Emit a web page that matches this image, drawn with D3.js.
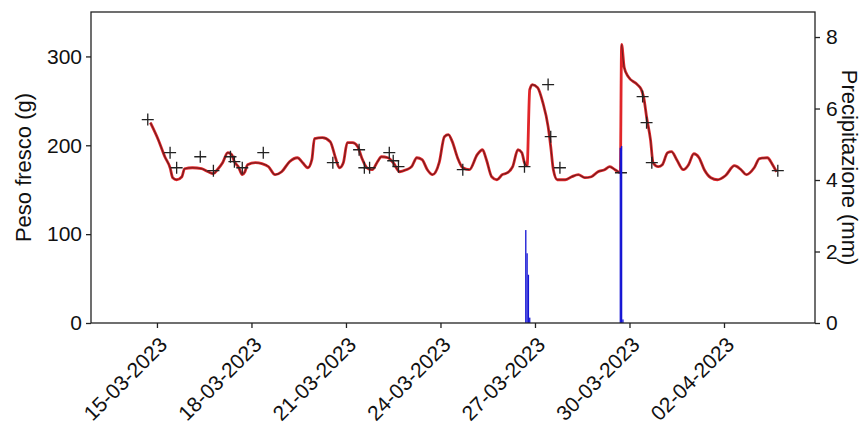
<!DOCTYPE html>
<html>
<head>
<meta charset="utf-8">
<script src="https://cdn.jsdelivr.net/npm/d3@7"></script>
<style>
  html, body { margin: 0; padding: 0; background: #fff; }
  svg { display: block; }
  text { font-family: "Liberation Sans", Arial, sans-serif; fill: #111; }
</style>
</head>
<body>
<div id="chart"></div>
<script>
// ---------------- DATA ----------------
// Modelled fresh weight (hourly-ish trace), red line
const lineTimes = [
  "2023-03-14 19:00","2023-03-15 01:00","2023-03-15 06:00","2023-03-15 10:00","2023-03-15 12:00",
  "2023-03-15 15:00","2023-03-15 19:00","2023-03-15 21:00","2023-03-16 03:00","2023-03-16 10:00",
  "2023-03-16 15:00","2023-03-16 19:00","2023-03-16 22:00","2023-03-17 02:00","2023-03-17 06:00",
  "2023-03-17 09:00","2023-03-17 11:00","2023-03-17 14:00","2023-03-17 17:00","2023-03-17 19:00",
  "2023-03-17 21:00","2023-03-18 03:00","2023-03-18 08:00","2023-03-18 13:00","2023-03-18 18:00",
  "2023-03-18 23:00","2023-03-19 05:00","2023-03-19 11:00","2023-03-19 15:00","2023-03-19 19:00",
  "2023-03-19 22:00","2023-03-20 00:00","2023-03-20 06:00","2023-03-20 12:00","2023-03-20 16:00",
  "2023-03-20 19:00","2023-03-20 22:00","2023-03-21 01:00","2023-03-21 05:00","2023-03-21 09:00",
  "2023-03-21 12:00","2023-03-21 16:00","2023-03-21 20:00","2023-03-22 00:00","2023-03-22 03:00",
  "2023-03-22 08:00","2023-03-22 12:00","2023-03-22 17:00","2023-03-22 22:00","2023-03-23 02:00",
  "2023-03-23 06:00","2023-03-23 10:00","2023-03-23 14:00","2023-03-23 18:00","2023-03-23 23:00",
  "2023-03-24 03:00","2023-03-24 06:00","2023-03-24 09:00","2023-03-24 13:00","2023-03-24 17:00",
  "2023-03-24 22:00","2023-03-25 04:00","2023-03-25 08:00","2023-03-25 11:00","2023-03-25 15:00",
  "2023-03-25 19:00","2023-03-25 23:00","2023-03-26 03:00","2023-03-26 07:00","2023-03-26 11:00",
  "2023-03-26 14:00","2023-03-26 16:00","2023-03-26 18:00","2023-03-26 20:00","2023-03-26 22:00",
  "2023-03-27 02:00","2023-03-27 06:00","2023-03-27 10:00","2023-03-27 12:00","2023-03-27 14:00",
  "2023-03-27 17:00","2023-03-27 23:00","2023-03-28 04:00","2023-03-28 09:00","2023-03-28 14:00",
  "2023-03-28 19:00","2023-03-29 00:00","2023-03-29 05:00","2023-03-29 09:00","2023-03-29 13:00",
  "2023-03-29 17:00","2023-03-29 18:00","2023-03-29 20:00","2023-03-29 23:00","2023-03-30 06:00",
  "2023-03-30 09:00","2023-03-30 11:00","2023-03-30 13:00","2023-03-30 16:00","2023-03-30 18:00",
  "2023-03-30 22:00","2023-03-31 01:00","2023-03-31 05:00","2023-03-31 08:00","2023-03-31 12:00",
  "2023-03-31 17:00","2023-03-31 21:00","2023-04-01 01:00","2023-04-01 05:00","2023-04-01 09:00",
  "2023-04-01 14:00","2023-04-01 19:00","2023-04-02 01:00","2023-04-02 08:00","2023-04-02 13:00",
  "2023-04-02 17:00","2023-04-02 23:00","2023-04-03 03:00","2023-04-03 09:00","2023-04-03 13:00",
  "2023-04-03 16:00"
];
const lineValues = [
  225.5,206.3,187.1,174.7,163.5,
  161.2,164.6,173.6,174.7,173.6,
  170.2,168.0,172.5,180.4,191.7,
  189.4,181.5,175.9,166.9,170.2,
  178.1,180.4,179.3,175.9,166.9,
  170.2,181.5,186.0,180.4,174.7,
  183.8,207.4,208.6,204.1,186.0,
  174.7,180.4,202.9,202.9,198.4,
  186.0,174.7,172.5,181.5,187.1,
  186.0,180.4,170.2,172.5,175.9,
  186.0,183.8,172.5,166.9,180.4,
  209.7,212.0,204.1,186.0,174.7,
  172.5,189.4,195.0,183.8,164.6,
  161.2,166.9,169.1,175.9,195.0,
  191.7,180.4,177.0,262.7,268.3,
  264.9,248.0,221.0,198.4,172.5,
  161.2,161.2,164.6,166.9,163.5,
  164.6,170.2,172.5,175.9,172.5,
  169.1,313.4,287.5,277.3,268.3,
  262.7,252.5,232.2,206.3,180.4,
  175.9,178.1,191.7,192.8,183.8,
  172.5,178.1,190.5,186.0,172.5,
  163.5,161.2,165.7,177.0,172.5,
  166.9,174.7,184.9,186.0,178.1,
  170.2
];

// Measured fresh weight, black '+' markers
const obsTimes = [
  "2023-03-14 17:00","2023-03-15 10:00","2023-03-15 15:00","2023-03-16 09:00","2023-03-16 19:00",
  "2023-03-17 08:00","2023-03-17 11:00","2023-03-17 17:00","2023-03-18 09:00","2023-03-20 14:00",
  "2023-03-21 10:00","2023-03-21 14:00","2023-03-21 18:00","2023-03-22 09:00","2023-03-22 12:00",
  "2023-03-22 16:00","2023-03-24 17:00","2023-03-26 16:00","2023-03-27 10:00","2023-03-27 12:00",
  "2023-03-27 19:00","2023-03-29 17:30","2023-03-30 10:00","2023-03-30 13:00","2023-03-30 17:00",
  "2023-04-03 17:00"
];
const obsValues = [
  228.9,191.7,174.7,187.1,171.4,
  187.1,181.5,174.7,191.7,180.4,
  195.0,174.7,174.7,191.7,182.6,
  175.9,172.5,175.9,268.3,209.7,
  174.7,169.1,254.8,225.5,180.4,
  171.4
];

// Hourly precipitation (mm), blue bars
const rainTimes = [
  "2023-03-26 17:00","2023-03-26 18:00","2023-03-26 19:00","2023-03-26 20:00",
  "2023-03-29 17:00","2023-03-29 18:00","2023-03-29 19:00"
];
const rainValues = [2.6, 1.95, 1.35, 0.15, 4.9, 4.95, 0.1];

// Axis ticks
const xTickLabels = ["15-03-2023","18-03-2023","21-03-2023","24-03-2023","27-03-2023","30-03-2023","02-04-2023"];
const yLeftTicks = [0, 100, 200, 300];
const yRightTicks = [0, 2, 4, 6, 8];

// ---------------- LAYOUT ----------------
const W = 864, H = 424;
const M = { left: 91, right: 49, top: 12, bottom: 101 };
const pw = W - M.left - M.right, ph = H - M.top - M.bottom;

const parse = d3.timeParse("%Y-%m-%d %H:%M");
const parseTick = d3.timeParse("%d-%m-%Y");

const x = d3.scaleTime()
  .domain([parse("2023-03-12 21:45"), parse("2023-04-04 21:20")])
  .range([0, pw]);
const yL = d3.scaleLinear().domain([0, 350]).range([ph, 0]);
const yR = d3.scaleLinear().domain([0, 8.7]).range([ph, 0]);

const svg = d3.select("#chart").append("svg").attr("width", W).attr("height", H);
const g = svg.append("g").attr("transform", `translate(${M.left},${M.top})`);

const lineData = lineTimes.map((t, i) => ({ t: parse(t), v: lineValues[i] }));
const obsData = obsTimes.map((t, i) => ({ t: parse(t), v: obsValues[i] }));
const rainData = rainTimes.map((t, i) => ({ t: parse(t), v: rainValues[i] }));

const line = d3.line().x(d => x(d.t)).y(d => yL(d.v)).curve(d3.curveMonotoneX);

// red trace
g.append("path").datum(lineData)
  .attr("fill", "none").attr("stroke", "#e0262a").attr("stroke-width", 2.8)
  .attr("stroke-linejoin", "round").attr("d", line);

// darker core (not drawn on steep jumps)
const darkLine = d3.line().defined(d => !d.gap).x(d => x(d.t)).y(d => yL(d.v)).curve(d3.curveMonotoneX);
const darkData = [];
lineData.forEach((d, i) => {
  if (i > 0 && d.v - lineData[i - 1].v > 50) darkData.push({ gap: true });
  darkData.push(d);
});
g.append("path").datum(darkData)
  .attr("fill", "none").attr("stroke", "#5a1c1c").attr("stroke-width", 1.1).attr("stroke-opacity", 0.85)
  .attr("stroke-linejoin", "round").attr("d", darkLine);

// observation markers
g.selectAll("path.obs").data(obsData).enter().append("path")
  .attr("class", "obs")
  .attr("transform", d => `translate(${x(d.t)},${yL(d.v)})`)
  .attr("d", "M-6,0H6M0,-6V6")
  .attr("stroke", "#222").attr("stroke-width", 1.3).attr("fill", "none");

// precipitation bars (secondary axis, drawn on top)
const hourPx = x(parse("2023-03-20 01:00")) - x(parse("2023-03-20 00:00"));
g.selectAll("rect.rain").data(rainData).enter().append("rect")
  .attr("class", "rain")
  .attr("x", d => x(d.t) - hourPx / 2)
  .attr("width", hourPx)
  .attr("y", d => yR(d.v))
  .attr("height", d => ph - yR(d.v))
  .attr("fill", "#1414d4");

// frame
g.append("rect").attr("x", 0).attr("y", 0).attr("width", pw).attr("height", ph)
  .attr("fill", "none").attr("stroke", "#222").attr("stroke-width", 1.3);

// axes
const fs = 21;
const xAxis = d3.axisBottom(x)
  .tickValues(xTickLabels.map(s => parseTick(s)))
  .tickFormat(d3.timeFormat("%d-%m-%Y"))
  .tickSize(5).tickPadding(4);
const gx = g.append("g").attr("transform", `translate(0,${ph})`).call(xAxis);
gx.select(".domain").remove();
gx.selectAll(".tick line").attr("stroke", "#222").attr("stroke-width", 1.3);
gx.selectAll(".tick text")
  .attr("font-size", fs).attr("text-anchor", "end")
  .attr("x", 0).attr("y", 0).attr("dy", 0)
  .attr("transform", "translate(11,23) rotate(-45)");

const gyl = g.append("g").call(d3.axisLeft(yL).tickValues(yLeftTicks).tickSize(5).tickPadding(4));
gyl.select(".domain").remove();
gyl.selectAll(".tick line").attr("stroke", "#222").attr("stroke-width", 1.3);
gyl.selectAll(".tick text").attr("font-size", fs);

const gyr = g.append("g").attr("transform", `translate(${pw},0)`)
  .call(d3.axisRight(yR).tickValues(yRightTicks).tickSize(5).tickPadding(6));
gyr.select(".domain").remove();
gyr.selectAll(".tick line").attr("stroke", "#222").attr("stroke-width", 1.3);
gyr.selectAll(".tick text").attr("font-size", fs);

// axis titles
svg.append("text")
  .attr("transform", `translate(31,${M.top + ph / 2}) rotate(-90)`)
  .attr("text-anchor", "middle").attr("font-size", 22)
  .text("Peso fresco (g)");
svg.append("text")
  .attr("transform", `translate(842,${M.top + ph / 2}) rotate(90)`)
  .attr("text-anchor", "middle").attr("font-size", 22)
  .text("Precipitazione (mm)");
</script>
</body>
</html>
